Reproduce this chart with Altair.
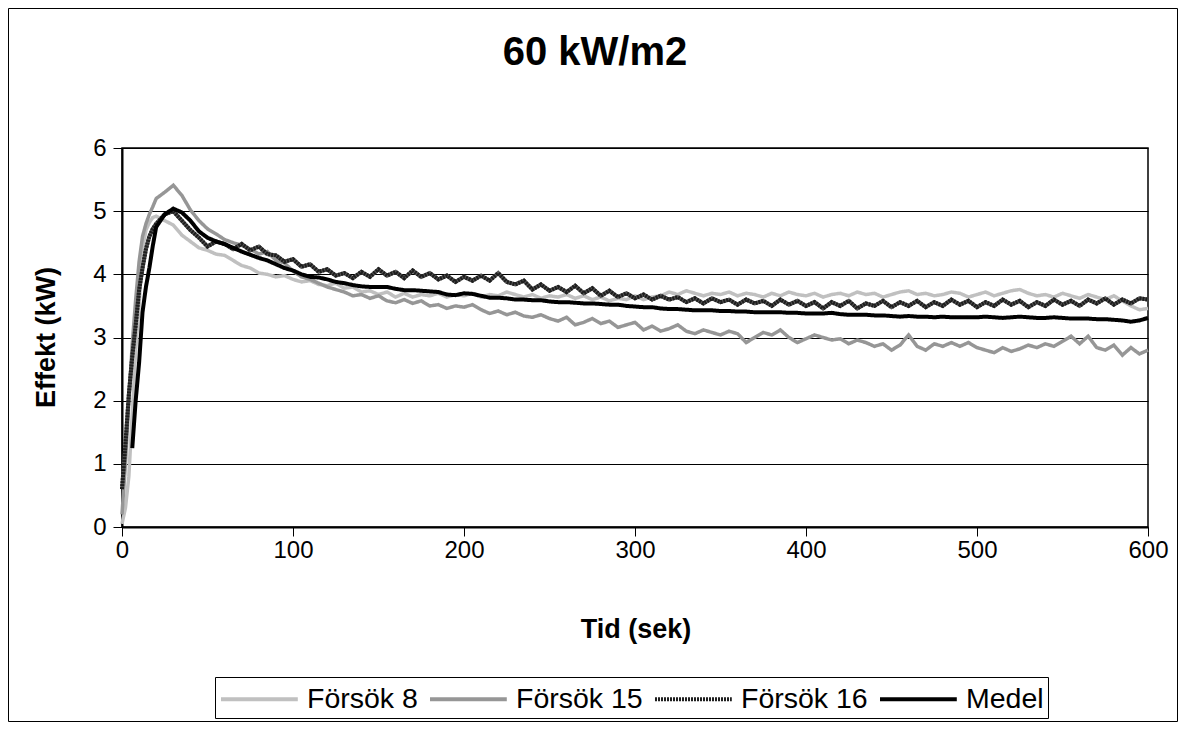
import altair as alt
import pandas as pd

# ---- data ----
times = list(range(0, 21, 2)) + list(range(25, 601, 5))

forsok8 = [0.05, 0.3, 0.8, 1.8, 2.8, 3.5, 4.4, 4.7, 4.82, 4.9, 4.92,
           4.85, 4.78, 4.62, 4.52, 4.42, 4.38, 4.32, 4.3, 4.22, 4.14,
           4.1, 4.02, 4.0, 3.96, 3.98, 3.92, 3.88, 3.9, 3.84, 3.82,
           3.86, 3.78, 3.8, 3.72, 3.74, 3.68, 3.72, 3.64, 3.7, 3.64,
           3.68, 3.66, 3.7, 3.64, 3.68, 3.66, 3.7, 3.64, 3.68, 3.66,
           3.72, 3.68, 3.64, 3.68, 3.62, 3.66, 3.64, 3.68, 3.62, 3.66,
           3.6, 3.64, 3.58, 3.62, 3.6, 3.66, 3.6, 3.64, 3.66, 3.72,
           3.68, 3.74, 3.7, 3.66, 3.7, 3.68, 3.72, 3.66, 3.7, 3.68,
           3.64, 3.7, 3.66, 3.72, 3.68, 3.66, 3.7, 3.64, 3.68, 3.7,
           3.66, 3.72, 3.68, 3.7, 3.64, 3.68, 3.72, 3.74, 3.68, 3.7,
           3.66, 3.68, 3.72, 3.7, 3.64, 3.68, 3.72, 3.66, 3.7, 3.74,
           3.76, 3.7, 3.66, 3.68, 3.64, 3.7, 3.66, 3.62, 3.68, 3.64,
           3.6, 3.66, 3.58, 3.5, 3.44, 3.46]

forsok15 = [0.2, 1.0, 2.0, 2.9, 3.6, 4.2, 4.6, 4.8, 4.95, 5.07, 5.2,
            5.3, 5.41, 5.25, 5.02, 4.85, 4.72, 4.64, 4.55, 4.5, 4.46,
            4.4, 4.32, 4.36, 4.22, 4.18, 4.05, 3.96, 3.92, 3.86, 3.8,
            3.76, 3.72, 3.66, 3.68, 3.62, 3.66, 3.58, 3.55, 3.6, 3.54,
            3.58, 3.5, 3.52, 3.46, 3.5, 3.48, 3.52, 3.44, 3.38, 3.42,
            3.36, 3.4, 3.34, 3.32, 3.36, 3.3, 3.26, 3.32, 3.2, 3.24,
            3.3, 3.22, 3.26, 3.16, 3.2, 3.24, 3.12, 3.18, 3.1, 3.14,
            3.2, 3.1, 3.06, 3.12, 3.08, 3.04, 3.1, 3.06, 2.92, 3.0,
            3.08, 3.04, 3.12, 3.0, 2.92, 2.98, 3.04, 3.0, 2.96, 2.98,
            2.9, 2.96, 2.92, 2.86, 2.9, 2.8, 2.88, 3.04, 2.86, 2.8,
            2.9, 2.86, 2.92, 2.86, 2.92, 2.84, 2.8, 2.76, 2.84, 2.78,
            2.82, 2.88, 2.84, 2.9, 2.86, 2.94, 3.02, 2.9, 3.02, 2.84,
            2.8, 2.88, 2.72, 2.84, 2.74, 2.8]

forsok16 = [0.6, 1.3, 2.1, 2.7, 3.2, 3.75, 4.1, 4.4, 4.6, 4.72, 4.8,
            4.95, 5.0, 4.85, 4.7, 4.58, 4.44, 4.52, 4.48, 4.4, 4.48,
            4.38, 4.44, 4.32, 4.3, 4.2, 4.24, 4.12, 4.16, 4.04, 4.08,
            3.98, 4.02, 3.94, 4.04, 3.96, 4.08, 3.98, 4.04, 3.94, 4.06,
            3.96, 4.02, 3.92, 3.98, 3.88, 3.96, 3.9, 3.98, 3.9, 4.02,
            3.88, 3.84, 3.9, 3.76, 3.84, 3.74, 3.8, 3.72, 3.82, 3.7,
            3.78, 3.66, 3.74, 3.64, 3.7, 3.62, 3.68, 3.6, 3.66, 3.6,
            3.64, 3.56, 3.62, 3.54, 3.62, 3.56, 3.6, 3.52, 3.6, 3.54,
            3.58, 3.5, 3.6, 3.52, 3.58, 3.5, 3.56, 3.46, 3.56, 3.5,
            3.58, 3.46, 3.54, 3.5, 3.58, 3.48, 3.56, 3.5, 3.58, 3.48,
            3.56, 3.5, 3.6, 3.52, 3.58, 3.48, 3.56, 3.5, 3.6, 3.52,
            3.58, 3.48, 3.56, 3.5, 3.6, 3.52, 3.58, 3.5, 3.6, 3.54,
            3.62, 3.52, 3.6, 3.54, 3.62, 3.6]

medel = [None, None, None, 1.25, 2.0, 2.6, 3.4, 3.8, 4.1, 4.45, 4.75,
         4.95, 5.04, 4.98, 4.85, 4.68, 4.58, 4.52, 4.48, 4.42, 4.36,
         4.31, 4.26, 4.22, 4.16, 4.1, 4.06, 4.0, 3.96, 3.95, 3.92,
         3.88, 3.86, 3.83, 3.81, 3.8, 3.8, 3.8, 3.77, 3.75, 3.75,
         3.74, 3.73, 3.72, 3.68, 3.67, 3.7, 3.69, 3.66, 3.63, 3.63,
         3.62, 3.6, 3.6, 3.59, 3.59, 3.57, 3.56, 3.56, 3.55, 3.54,
         3.54, 3.53, 3.52, 3.52, 3.5, 3.49, 3.48, 3.48, 3.46, 3.45,
         3.45, 3.44, 3.43, 3.43, 3.43, 3.42, 3.42, 3.41, 3.41, 3.4,
         3.4, 3.4, 3.4, 3.39, 3.39, 3.38, 3.38, 3.38, 3.39, 3.37,
         3.36, 3.36, 3.36, 3.35, 3.35, 3.34, 3.33, 3.34, 3.33, 3.33,
         3.32, 3.33, 3.32, 3.32, 3.32, 3.32, 3.33, 3.32, 3.31, 3.32,
         3.33, 3.32, 3.31, 3.31, 3.32, 3.31, 3.3, 3.3, 3.3, 3.29,
         3.29, 3.28, 3.27, 3.25, 3.27, 3.31]

series_names = ["Försök 8", "Försök 15", "Försök 16", "Medel"]
series_colors = ["#c0c0c0", "#969696", "#1e1e1e", "#000000"]
series_dash = [[1, 0], [1, 0], [2, 1], [1, 0]]

x_ticks = [0, 100, 200, 300, 400, 500, 600]
y_ticks = [0, 1, 2, 3, 4, 5, 6]

chart_title = "60 kW/m2"
x_title = "Tid (sek)"
y_title = "Effekt (kW)"

for s in (forsok8, forsok15, forsok16, medel):
    assert len(s) == len(times), len(s)

rows = []
for name, vals in zip(series_names, [forsok8, forsok15, forsok16, medel]):
    for t, v in zip(times, vals):
        if v is not None:
            rows.append({"t": t, "v": v, "serie": name})
df = pd.DataFrame(rows)

FONT = "Liberation Sans"
W, H = 1026, 379

x_enc = alt.X("t:Q", scale=alt.Scale(domain=[0, 600], nice=False),
              axis=alt.Axis(values=x_ticks, title=None, grid=False, labelFlush=False,
                            labelPadding=2, labelFontSize=24))
y_enc = alt.Y("v:Q", scale=alt.Scale(domain=[0, 6], nice=False),
              axis=alt.Axis(values=y_ticks, title=None, grid=True, labelFlush=False,
                            labelPadding=7, labelFontSize=24))

# legend swatch: a long horizontal stroke drawn from a custom path
SYM = 32  # layout size of a legend symbol (px)
legend = alt.Legend(
    orient="none", legendX=93, legendY=529, direction="horizontal", title=None,
    symbolType="M-1,0H3.8", symbolSize=SYM * SYM, symbolStrokeWidth=4,
    labelFont=FONT, labelFontSize=28.5, labelColor="black", labelOffset=52,
    columnPadding=4, padding=4, strokeColor="black", fillColor="white",
)

color_enc = alt.Color("serie:N", scale=alt.Scale(domain=series_names, range=series_colors),
                      legend=legend)
dash_enc = alt.StrokeDash("serie:N", scale=alt.Scale(domain=series_names, range=series_dash),
                          legend=legend)

base = alt.Chart(df).encode(x=x_enc, y=y_enc, color=color_enc, strokeDash=dash_enc)

l8 = base.transform_filter(alt.datum.serie == "Försök 8").mark_line(strokeWidth=3.5)
l15 = base.transform_filter(alt.datum.serie == "Försök 15").mark_line(strokeWidth=3.5)
l16u = alt.Chart(df).transform_filter(alt.datum.serie == "Försök 16").mark_line(
    strokeWidth=4, color="#555555").encode(x=x_enc, y=y_enc)
l16 = base.transform_filter(alt.datum.serie == "Försök 16").mark_line(strokeWidth=4)
lm = base.transform_filter(alt.datum.serie == "Medel").mark_line(strokeWidth=4)

one = pd.DataFrame({"k": [0]})
border = alt.Chart(one).mark_rect(fillOpacity=0, stroke="black", strokeWidth=1).encode(
    x=alt.value(-113.5), x2=alt.value(W + 29.5), y=alt.value(-139.5), y2=alt.value(H + 194.5))

title_t = alt.Chart(pd.DataFrame({"txt": [chart_title]})).mark_text(
    font=FONT, fontSize=40, fontWeight="bold", align="center", baseline="alphabetic", color="black"
).encode(text="txt:N", x=alt.value(473), y=alt.value(-83))

xt = alt.Chart(pd.DataFrame({"txt": [x_title]})).mark_text(
    font=FONT, fontSize=27, fontWeight="bold", align="center", baseline="alphabetic", color="black"
).encode(text="txt:N", x=alt.value(W / 2 + 1), y=alt.value(490))

yt = alt.Chart(pd.DataFrame({"txt": [y_title]})).mark_text(
    font=FONT, fontSize=27, fontWeight="bold", align="center", baseline="middle", angle=270,
    color="black"
).encode(text="txt:N", x=alt.value(-75), y=alt.value(H / 2))

chart = alt.layer(border, l8, l15, l16u, l16, lm, title_t, xt, yt).properties(
    width=W, height=H,
    padding={"left": 114, "top": 140, "right": 30, "bottom": 195},
    autosize=alt.AutoSizeParams(type="none"),
).configure_view(
    stroke="black", strokeWidth=1.5
).configure_axis(
    domainColor="black", domainWidth=2, tickColor="black", tickWidth=1, tickSize=9,
    labelFont=FONT, labelColor="black", gridColor="black", gridWidth=1, gridOpacity=1,
)

chart.save("out.html", embed_options={"renderer": "svg", "actions": False})
